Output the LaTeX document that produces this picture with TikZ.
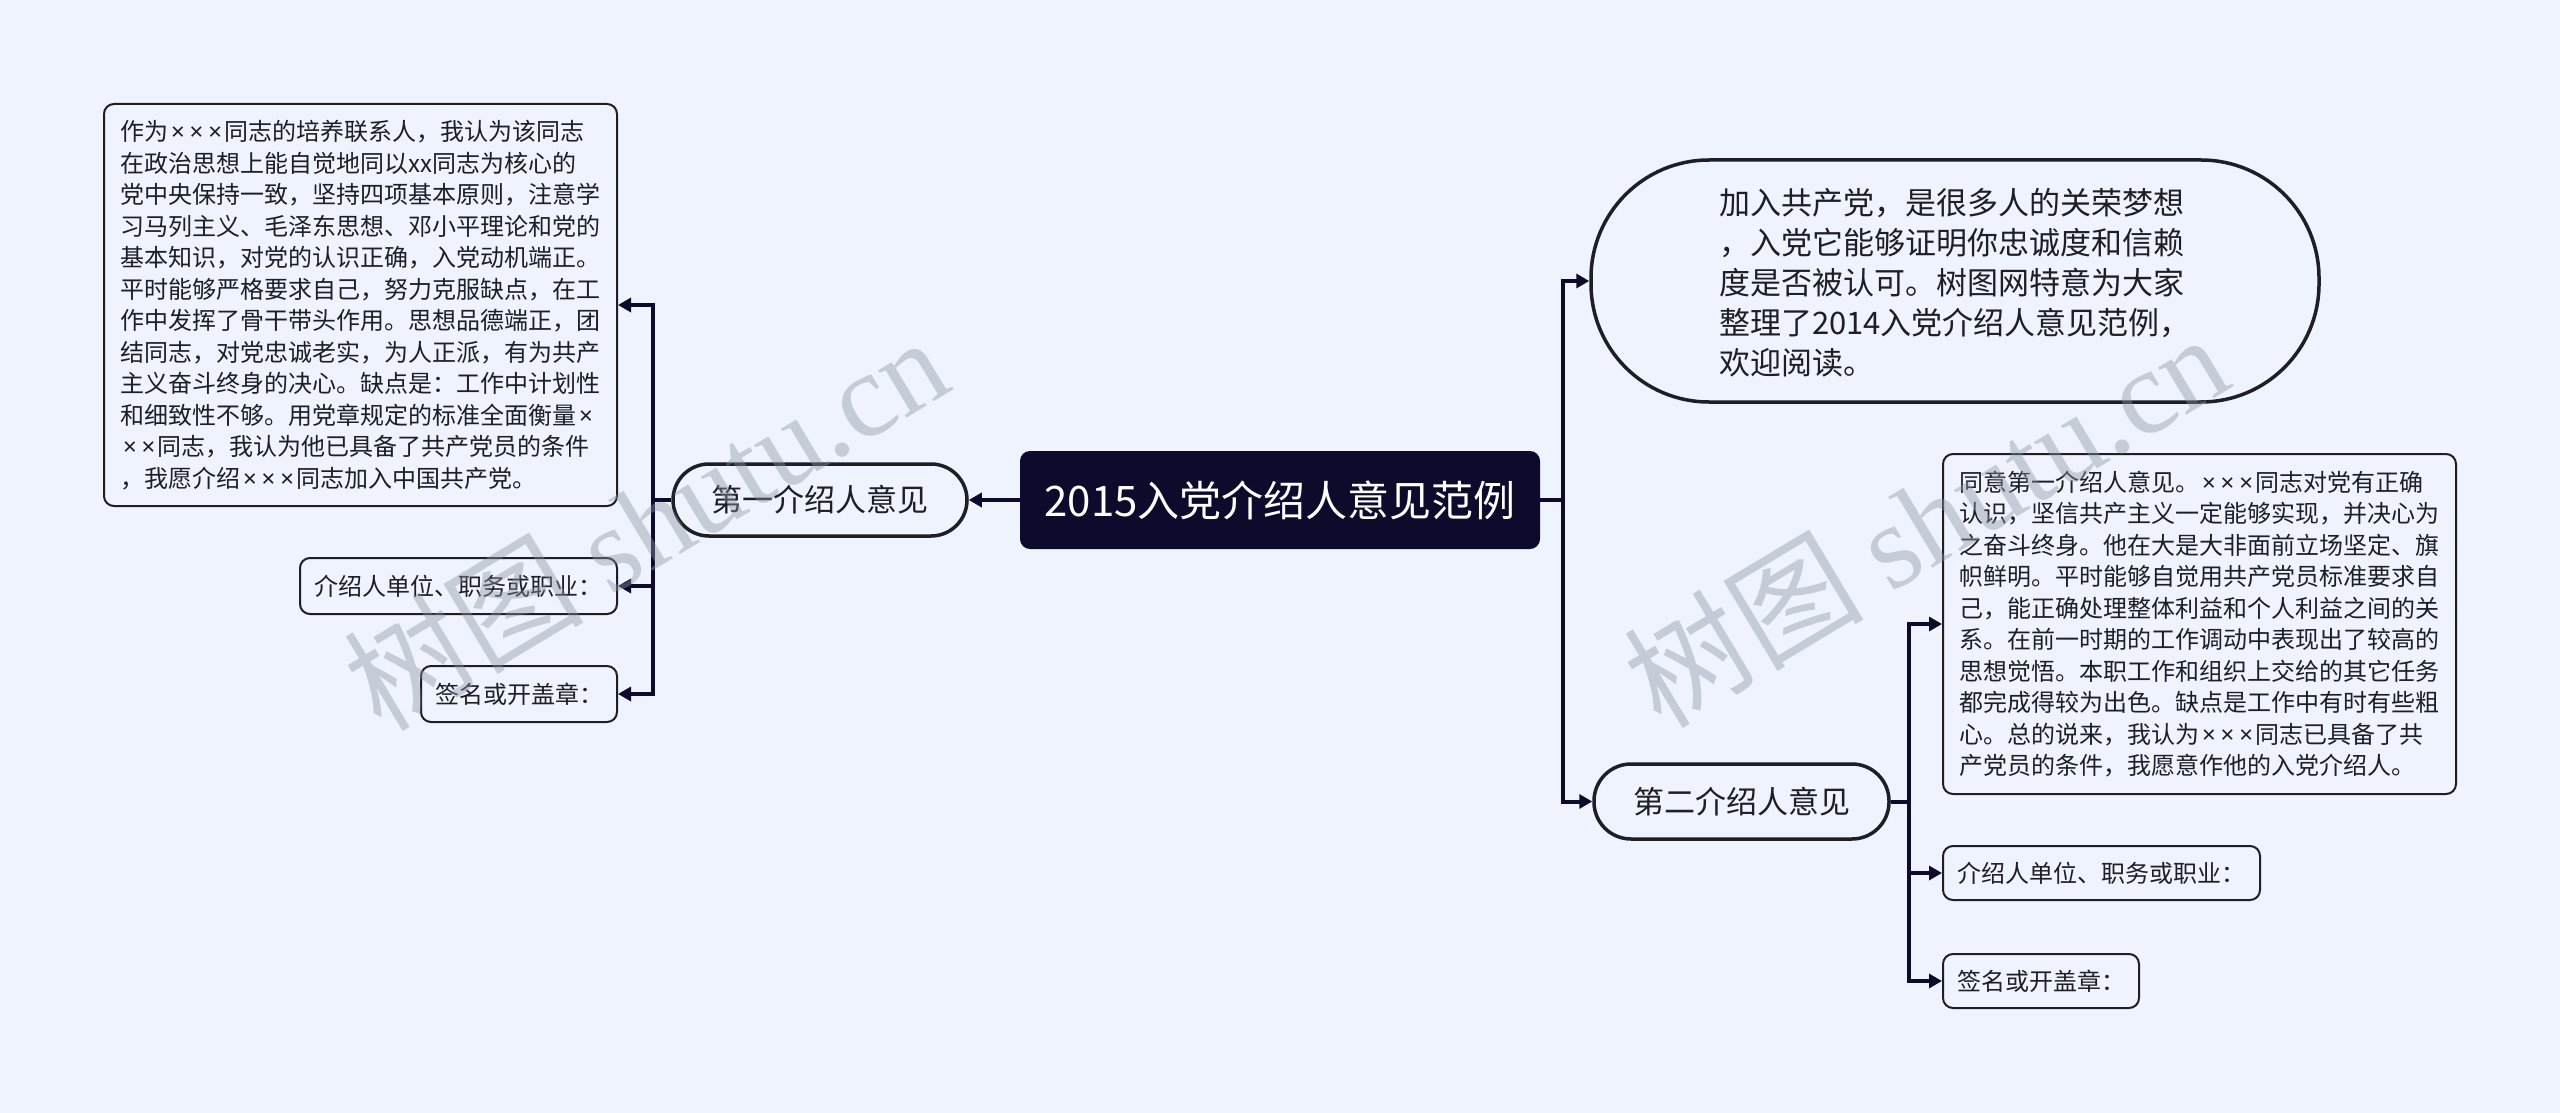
\documentclass[tikz,border=0pt]{standalone}
\usepackage{fontspec}
\setmainfont{Noto Sans CJK SC}
\newfontfamily\wmfont{Liberation Serif}
\newfontfamily\latinf{Noto Sans}
\newcommand\mx{{\latinf\kern2.5pt×\kern2.5pt}}
\usetikzlibrary{arrows.meta}
\definecolor{bg}{HTML}{EEF3FD}
\definecolor{navy}{HTML}{0D0A2B}
\definecolor{ink}{HTML}{1E1E24}
\definecolor{wm}{HTML}{8E94A4}
\begin{document}
\begin{tikzpicture}[x=1pt,y=-1pt,
  line/.style={draw=navy,line width=4pt},
  arr/.style={draw=navy,line width=4pt,-{Triangle[length=13pt,width=14pt]}},
  rootbox/.style={fill=navy,rounded corners=10pt,text=white,font=\fontsize{42}{48}\selectfont,minimum width=520pt,minimum height=98pt,inner sep=0pt},
  pill/.style={draw=ink,line width=3.5pt,fill=bg,font=\fontsize{31}{40}\selectfont,text=ink,inner sep=0pt},
  tbox/.style={draw=ink,line width=2pt,fill=bg,rounded corners=10pt,font=\fontsize{24}{31.5}\selectfont,text=ink,align=left,inner sep=0pt},
]
\fill[bg] (0,0) rectangle (2560,1113);
\useasboundingbox (0,0) rectangle (2560,1113);

% root
\node[rootbox] (root) at (1280,500) {2015入党介绍人意见范例};

% left branch
\node[pill,rounded corners=36pt,minimum width=294pt,minimum height=72pt] (p1) at (820,500) {第一介绍人意见};
\node[tbox,minimum width=513pt,minimum height=402pt] (L1) at (360.5,305) {作为\mx\mx\mx 同志的培养联系人，我认为该同志\\在政治思想上能自觉地同以xx同志为核心的\\党中央保持一致，坚持四项基本原则，注意学\\习马列主义、毛泽东思想、邓小平理论和党的\\基本知识，对党的认识正确，入党动机端正。\\平时能够严格要求自己，努力克服缺点，在工\\作中发挥了骨干带头作用。思想品德端正，团\\结同志，对党忠诚老实，为人正派，有为共产\\主义奋斗终身的决心。缺点是：工作中计划性\\和细致性不够。用党章规定的标准全面衡量\mx\\\mx\mx 同志，我认为他已具备了共产党员的条件\\，我愿介绍\mx\mx\mx 同志加入中国共产党。};
\node[tbox,minimum width=317pt,minimum height=56pt] (L2) at (458.5,586) {介绍人单位、职务或职业：};
\node[tbox,minimum width=196pt,minimum height=56pt] (L3) at (519,694) {签名或开盖章：};

% right branch
\node[pill,rounded corners=118pt,minimum width=728pt,minimum height=242pt,align=left,text depth=0pt] (top) at (1955,281) {\fontsize{31}{42}\selectfont 加入共产党，是很多人的关荣梦想\\，入党它能够证明你忠诚度和信赖\\度是否被认可。树图网特意为大家\\整理了2014入党介绍人意见范例，\\欢迎阅读。};
\node[pill,rounded corners=37pt,minimum width=295pt,minimum height=75pt] (p2) at (1741.5,801.5) {第二介绍人意见};
\node[tbox,minimum width=513pt,minimum height=340pt] (R1) at (2199.5,624) {同意第一介绍人意见。\mx\mx\mx 同志对党有正确\\认识，坚信共产主义一定能够实现，并决心为\\之奋斗终身。他在大是大非面前立场坚定、旗\\帜鲜明。平时能够自觉用共产党员标准要求自\\己，能正确处理整体利益和个人利益之间的关\\系。在前一时期的工作调动中表现出了较高的\\思想觉悟。本职工作和组织上交给的其它任务\\都完成得较为出色。缺点是工作中有时有些粗\\心。总的说来，我认为\mx\mx\mx 同志已具备了共\\产党员的条件，我愿意作他的入党介绍人。};
\node[tbox,minimum width=317pt,minimum height=54pt] (R2) at (2101.5,873) {介绍人单位、职务或职业：};
\node[tbox,minimum width=196pt,minimum height=54pt] (R3) at (2041,981) {签名或开盖章：};

% trunk coordinates
\coordinate (t1) at (653,500);
\coordinate (t2) at (1563,500);
\coordinate (t3) at (1909,801.5);

% connectors
\draw[arr] (root.west) -- (p1.east);
\draw[line] (p1.west) -- (t1);
\draw[arr] (t1) |- (L1.east);
\draw[arr] (t1) |- (L2.east);
\draw[arr] (t1) |- (L3.east);

\draw[line] (root.east) -- (t2);
\draw[arr] (t2) |- (top.west);
\draw[arr] (t2) |- (p2.west);

\draw[line] (p2.east) -- (t3);
\draw[arr] (t3) |- (R1.west);
\draw[arr] (t3) |- (R2.west);
\draw[arr] (t3) |- (R3.west);

% watermarks
\node[rotate=31,text=wm,opacity=0.42,font=\fontsize{120}{130}\selectfont] (wm1) at (645,522) {树图 {\wmfont shutu.cn}};
\node[rotate=31,text=wm,opacity=0.42,font=\fontsize{120}{130}\selectfont] (wm2) at (1925,519) {树图 {\wmfont shutu.cn}};
\end{tikzpicture}
\end{document}
